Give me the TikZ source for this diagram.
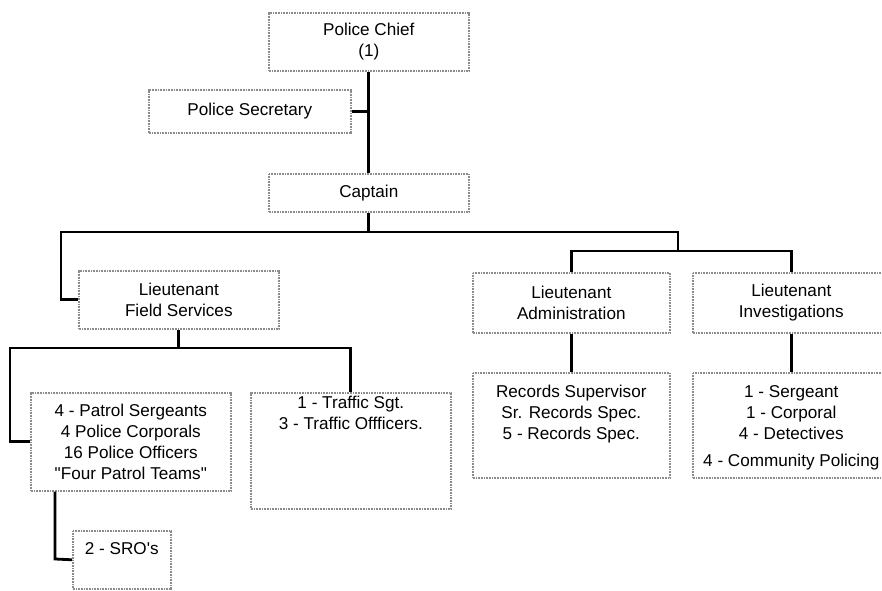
\documentclass[tikz,border=0pt]{standalone}
\usepackage{fontspec}
\setmainfont{Liberation Sans}
\tikzset{
  post/.style={draw=black!45, line width=1.2pt, dash pattern=on 0.7pt off 0.5pt,
    inner sep=0pt, anchor=north west, align=center,
    font=\fontsize{12.85pt}{15.75pt}\selectfont},
  link/.style={line width=2.1pt, line join=miter},
}
\newcommand{\toplines}[4]{\parbox[c][#1][t]{#2}{\centering\rule{0pt}{#3}#4}}
\begin{document}
\begin{tikzpicture}[x=0.75pt, y=-0.75pt]
    \useasboundingbox (0,0) rectangle (882,591);
    \clip (0,0) rectangle (882,591);

    % Command staff
    \node[post, minimum width=150pt, minimum height=43.5pt] (chief) at (268,12) {Police Chief\\(1)};
    \node[post, minimum width=151.5pt, minimum height=32.25pt] (secretary) at (148,89) {Police Secretary};
    \node[post, minimum width=150pt, minimum height=28.5pt] (captain) at (268,173) {Captain};

    % Lieutenants
    \node[post, minimum width=150pt, minimum height=43.5pt] (field) at (78,270) {Lieutenant\\Field Services};
    \node[post, minimum width=147.75pt, minimum height=45pt] (admin) at (472,272) {Lieutenant\\Administration};
    \node[post, minimum width=147.75pt, minimum height=45pt] (invest) at (692,272) {Lieutenant\\Investigations};

    % Units
    \node[post, minimum width=150pt, minimum height=73.5pt] (patrol) at (30,392)
        {4 - Patrol Sergeants\\4 Police Corporals\\16 Police Officers\\\textquotedbl Four Patrol Teams\textquotedbl};
    \node[post] (traffic) at (250,392)
        {\toplines{87pt}{150pt}{12.1pt}{1 - Traffic Sgt.\\3 - Traffic Offficers.}};
    \node[post] (records) at (472,372)
        {\toplines{78.75pt}{147.75pt}{18.9pt}{Records Supervisor\\Sr. Records Spec.\\5 - Records Spec.}};
    \node[post] (detail) at (692,372)
        {\toplines{78.75pt}{147.75pt}{18.9pt}{1 - Sergeant\\1 - Corporal\\4 - Detectives\\[4pt]4 - Community Policing}};
    \node[post] (sro) at (72,530)
        {\toplines{43.5pt}{73.5pt}{17.4pt}{2 - SRO\textquotesingle s}};

    % Bend points
    \coordinate (fsbend) at (61,232);
    \coordinate (adbend) at (678,232);
    \coordinate (adbus) at (678,251);
    \coordinate (ptbend) at (10,348);
    \coordinate (srobend) at (55,559);

    % Connectors
    \draw[link] (chief) -- (captain);
    \draw[link] (secretary.east) -- (secretary.east -| chief.south);
    \draw[link] (captain.south) -- (captain.south |- fsbend);
    \draw[link] (field.west) -| (fsbend) -- (adbend) -- (adbus);
    \draw[link] (admin.north) -- (admin.north |- adbus) -| (invest.north);
    \draw[link] (field.south) -- (field.south |- ptbend);
    \draw[link] (patrol.west) -| (ptbend) -| (traffic.north);
    \draw[link] (sro.west) -- (srobend) -- (srobend |- patrol.south);
    \draw[link] (admin) -- (records);
    \draw[link] (invest) -- (detail);
\end{tikzpicture}
\end{document}
